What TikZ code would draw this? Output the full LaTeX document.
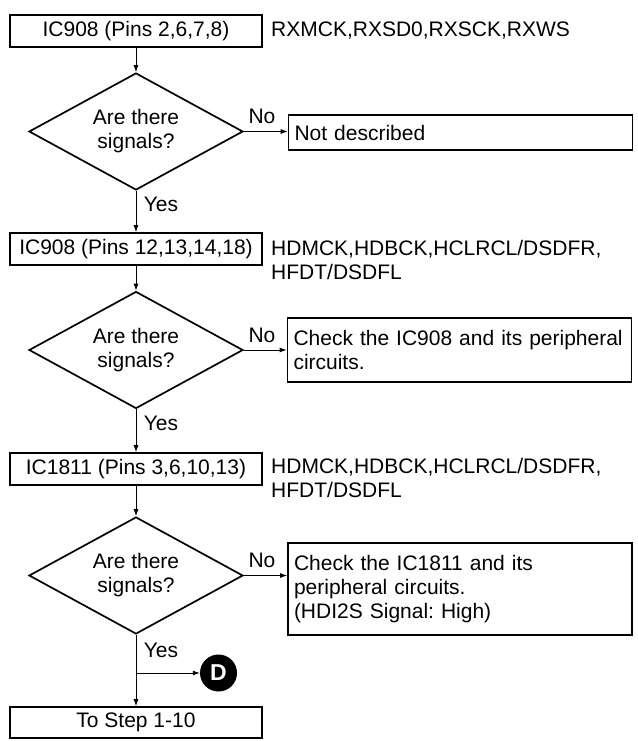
\documentclass[tikz,border=0pt]{standalone}
\usepackage{fontspec}
\setmainfont{Liberation Sans}
\usetikzlibrary{shapes.geometric,arrows.meta}
\frenchspacing
\begin{document}
\begin{tikzpicture}[x=1pt,y=-1pt,
  txt/.style={font=\fontsize{21}{24}\selectfont},
  box/.style={txt,draw,line width=1.7pt,minimum width=252pt,minimum height=32pt,inner sep=0pt},
  rbox/.style={txt,draw,line width=1.7pt,text width=332pt,inner xsep=6pt,inner ysep=0pt,align=left},
  dec/.style={txt,draw,line width=1.7pt,diamond,aspect=1.83,minimum width=214pt,minimum height=117pt,inner sep=0pt,align=center},
  side/.style={txt,anchor=west,align=left,inner sep=0pt},
  lbl/.style={txt,inner sep=0pt},
  arr/.style={-{Latex[length=7pt,width=5pt]},line width=0.8pt},
  ln/.style={line width=0.8pt}
]
\useasboundingbox (0,0) rectangle (637,741);

% column
\node[box] (b1) at (136,31) {IC908 (Pins 2,6,7,8)};
\node[dec] (d1) at (136,131.5) {Are there\\signals?};
\node[box] (b2) at (136,249) {IC908 (Pins 12,13,14,18)};
\node[dec] (d2) at (136,350) {Are there\\signals?};
\node[box] (b3) at (136,469) {IC1811 (Pins 3,6,10,13)};
\node[dec] (d3) at (136,575.5) {Are there\\signals?};
\node[box,minimum height=31pt] (b4) at (136,722.5) {To Step 1-10};

% side texts
\node[side] (s1) at (271,31) {RXMCK,RXSD0,RXSCK,RXWS};
\node[side,anchor=north west] (s2) at (271,240) {HDMCK,HDBCK,HCLRCL/DSDFR,\\HFDT/DSDFL};
\node[side,anchor=north west] (s3) at (271,458) {HDMCK,HDBCK,HCLRCL/DSDFR,\\HFDT/DSDFL};

% right boxes
\node[rbox,minimum height=35pt] (r1) at (460.5,132.5) {Not described};
\node[rbox,minimum height=64pt] (r2) at (459.5,350) {Check the IC908 and its peripheral\\circuits.};
\node[rbox,minimum height=92pt] (r3) at (460,589) {Check the IC1811 and its\\peripheral circuits.\\(HDI2S Signal: High)};

% D connector
\node[circle,fill=black,minimum size=37pt,inner sep=0pt,text=white,font=\fontsize{23}{24}\selectfont\bfseries] (D) at (218.5,673) {D};
\coordinate (j) at (136,673);

% connectors
\draw[arr] (b1) -- (d1);
\draw[arr] (d1) -- (b2);
\draw[arr] (b2) -- (d2);
\draw[arr] (d2) -- (b3);
\draw[arr] (b3) -- (d3);
\draw[arr] (d3) -- (b4);
\draw[arr] (j) -- (D);
\draw[arr] (d1.east) -- (d1.east -| r1.west);
\draw[arr] (d2.east) -- (d2.east -| r2.west);
\draw[arr] (d3.east) -- (d3.east -| r3.west);

% labels
\node[lbl] (n1) at (262,116) {No};
\node[lbl] (n2) at (262,335) {No};
\node[lbl] (n3) at (262,560) {No};
\node[lbl] (y1) at (161,204) {Yes};
\node[lbl] (y2) at (161,423) {Yes};
\node[lbl] (y3) at (161,650) {Yes};
\end{tikzpicture}
\end{document}
